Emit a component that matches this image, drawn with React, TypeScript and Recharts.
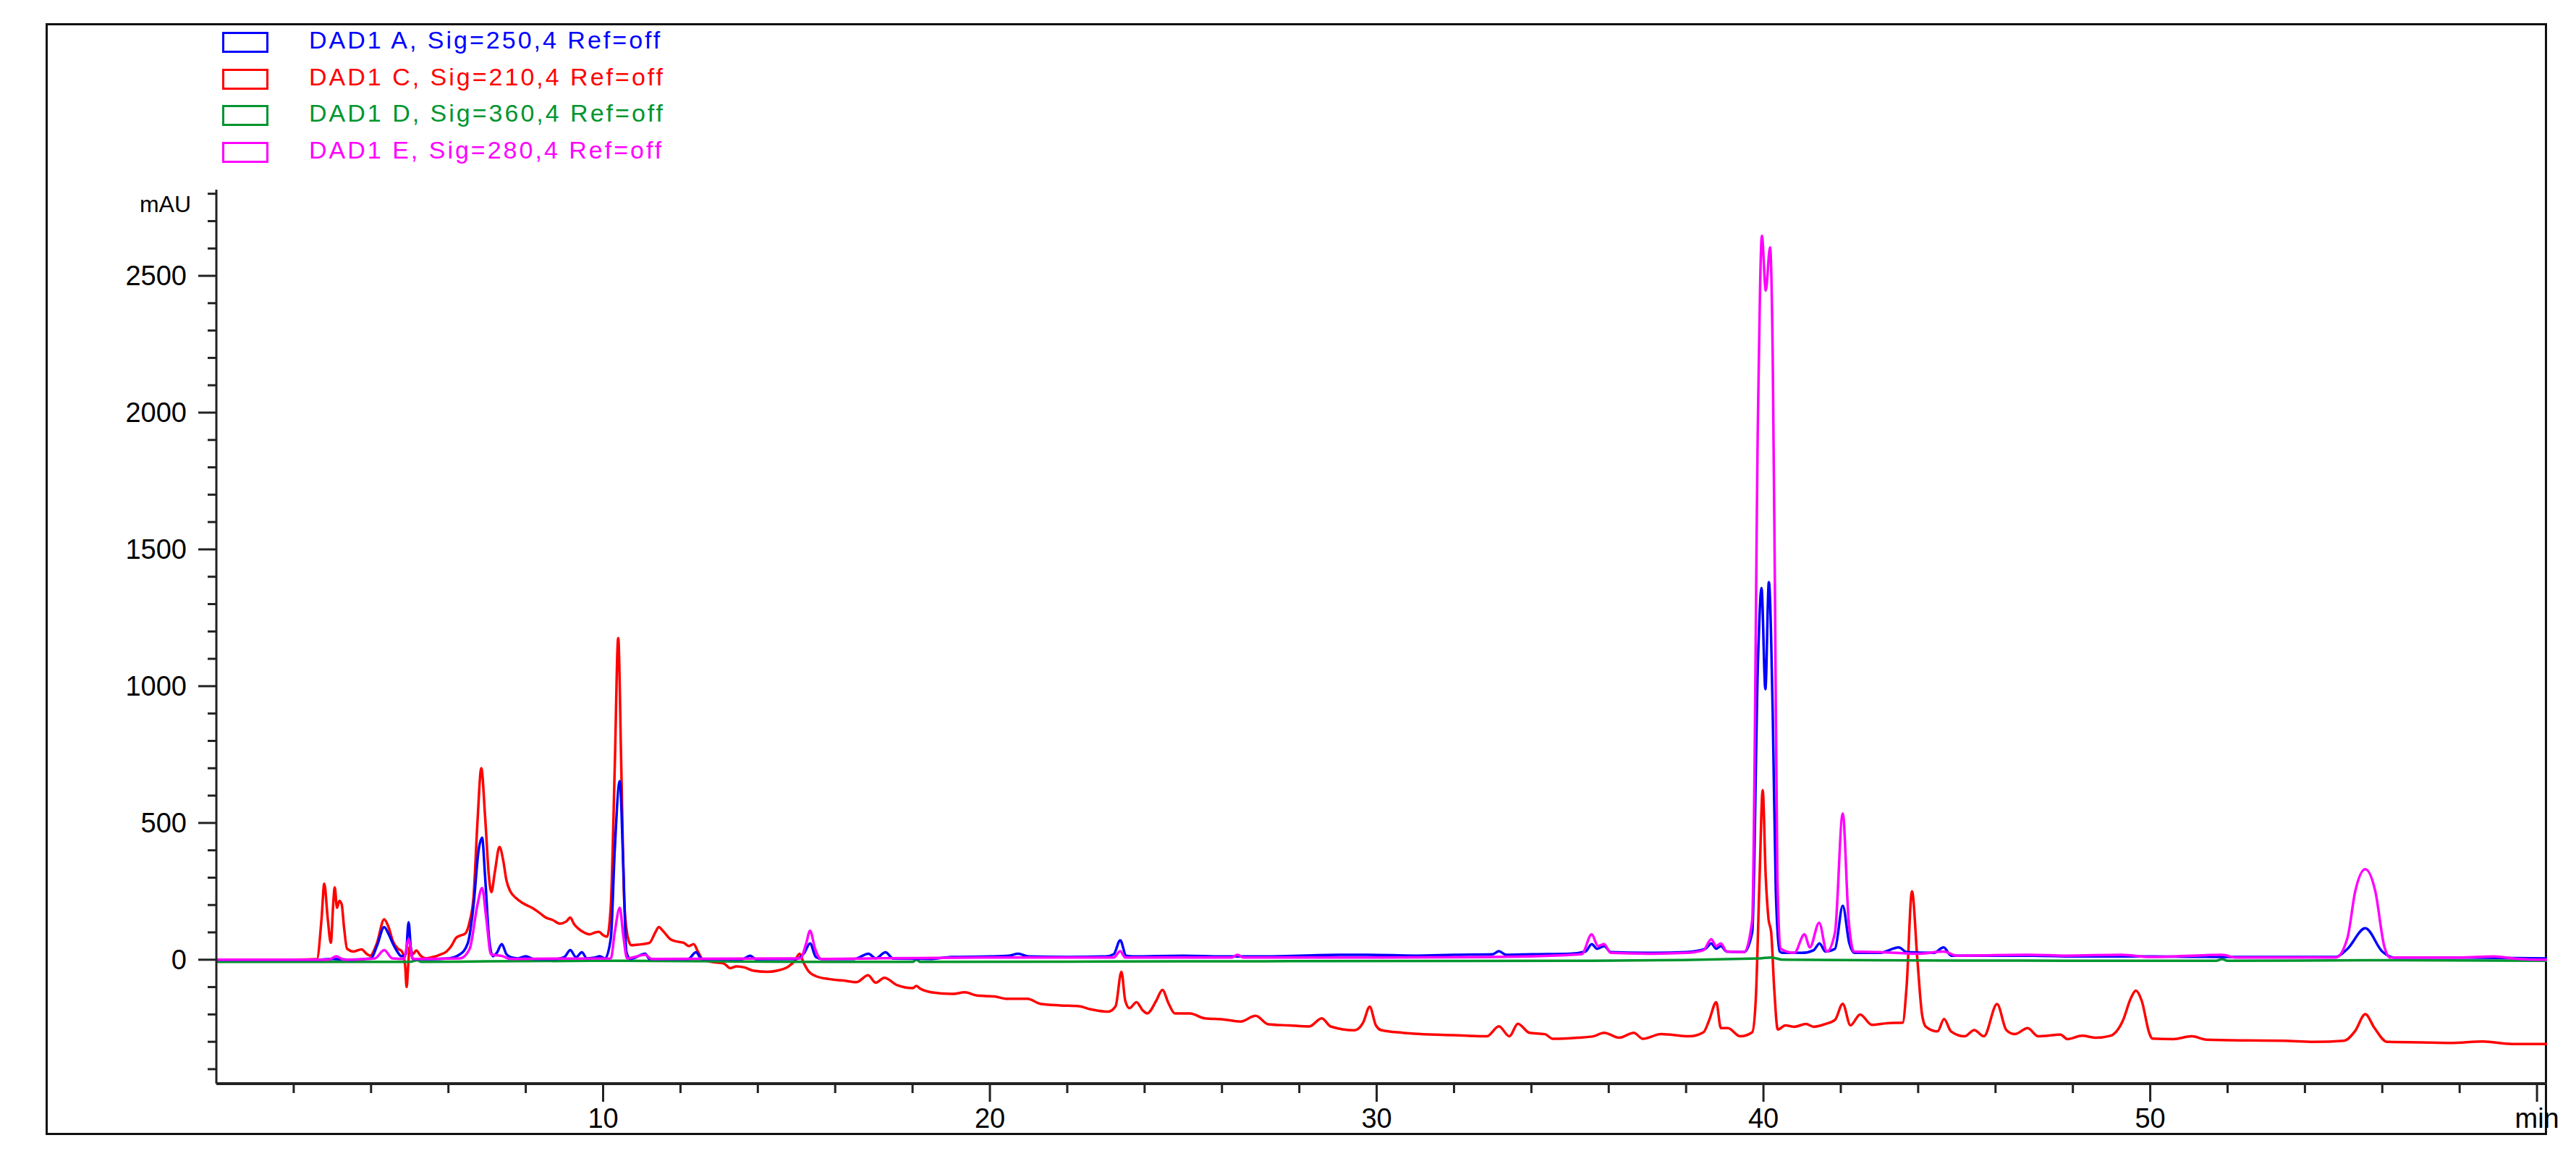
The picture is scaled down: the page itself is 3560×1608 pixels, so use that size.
import React from "react";
import { LineChart, Line, XAxis, YAxis } from "recharts";

// retention time (min), absorbance (mAU)
const dadA: [number, number][] = [
  [0, 0], [2.6, 0], [3.0, 3], [3.5, 0], [4.0, 5], [4.15, 50], [4.34, 119], [4.45, 95], [4.57, 57],
  [4.7, 25], [4.78, 13], [4.9, 20], [4.97, 137], [5.03, 40], [5.08, 3], [5.5, 2], [6.0, 5], [6.3, 20],
  [6.5, 60], [6.65, 200], [6.78, 400], [6.87, 446], [6.95, 300], [7.05, 80], [7.15, 13], [7.25, 25],
  [7.38, 57], [7.5, 20], [7.62, 9], [7.8, 5], [8.0, 13], [8.2, 3], [8.8, 3], [9.0, 10], [9.15, 35],
  [9.3, 9], [9.45, 27], [9.58, 5], [9.8, 8], [9.91, 13], [10.05, 5], [10.2, 80], [10.3, 400],
  [10.43, 653], [10.52, 350], [10.6, 30], [10.7, 3], [11.09, 22], [11.2, 3], [12.2, 3], [12.4, 27],
  [12.55, 3], [13.6, 2], [13.8, 15], [13.95, 2], [15.0, 3], [15.2, 25], [15.35, 60], [15.5, 10],
  [15.65, 3], [16.5, 3], [16.86, 22], [17.05, 5], [17.3, 27], [17.5, 4], [18.5, 3], [19.0, 10],
  [20.0, 12], [20.5, 15], [20.73, 22], [21.0, 12], [22.0, 10], [23.0, 12], [23.2, 20], [23.37, 71],
  [23.52, 15], [23.7, 12], [25.0, 15], [26.0, 12], [27.0, 12], [29.05, 18], [29.76, 18], [31.0, 15],
  [32.0, 18], [33.0, 20], [33.16, 31], [33.35, 18], [34.0, 20], [35.0, 22], [35.4, 30], [35.56, 57],
  [35.7, 40], [35.88, 50], [36.05, 28], [37.0, 25], [38.0, 28], [38.5, 40], [38.65, 60], [38.78, 40],
  [38.9, 50], [39.05, 30], [39.5, 28], [39.71, 100], [39.86, 1100], [39.95, 1359], [40.05, 989],
  [40.14, 1380], [40.24, 900], [40.32, 250], [40.42, 30], [40.5, 25], [41.0, 25], [41.3, 35],
  [41.45, 60], [41.6, 30], [41.85, 40], [42.05, 197], [42.22, 60], [42.35, 25], [43.0, 25], [43.5, 45],
  [43.7, 28], [44.4, 25], [44.66, 45], [44.85, 15], [46.0, 15], [47.0, 15], [48.0, 12], [50.0, 12],
  [52.0, 10], [54.8, 10], [55.1, 40], [55.56, 115], [56.0, 30], [56.3, 8], [58.0, 8], [60.3, 5],
];

const dadC: [number, number][] = [
  [0, 0], [2.0, 0], [2.6, 2], [2.72, 150], [2.79, 278], [2.88, 150], [2.96, 62], [3.02, 200],
  [3.06, 265], [3.12, 190], [3.18, 215], [3.24, 203], [3.3, 120], [3.38, 40], [3.55, 30], [3.75, 38],
  [3.9, 20], [3.98, 15], [4.15, 60], [4.34, 148], [4.45, 120], [4.57, 66], [4.7, 40], [4.8, 30],
  [4.88, -20], [4.92, -100], [4.96, -20], [5.0, 50], [5.08, 20], [5.17, 34], [5.28, 15], [5.41, 5],
  [5.6, 10], [5.77, 18], [5.95, 30], [6.07, 49], [6.2, 80], [6.3, 88], [6.43, 95], [6.55, 140],
  [6.65, 230], [6.75, 500], [6.85, 700], [6.95, 520], [7.05, 300], [7.11, 247], [7.2, 320],
  [7.32, 412], [7.42, 360], [7.5, 290], [7.6, 250], [7.75, 225], [7.92, 207], [8.16, 190], [8.35, 172],
  [8.52, 154], [8.7, 145], [8.88, 132], [9.05, 140], [9.15, 154], [9.25, 130], [9.35, 115], [9.5, 100],
  [9.65, 93], [9.8, 100], [9.89, 102], [10.0, 90], [10.1, 84], [10.2, 200], [10.3, 700], [10.39, 1176],
  [10.47, 700], [10.55, 200], [10.65, 75], [10.73, 53], [10.9, 55], [11.03, 57], [11.2, 62],
  [11.35, 100], [11.44, 119], [11.55, 105], [11.74, 75], [11.92, 66], [12.08, 62], [12.22, 50],
  [12.34, 57], [12.45, 30], [12.58, 0], [12.8, -8], [13.11, -13], [13.29, -31], [13.45, -24],
  [13.65, -28], [13.89, -40], [14.25, -44], [14.49, -40], [14.78, -26], [14.95, -5], [15.08, 22],
  [15.18, -10], [15.3, -40], [15.5, -60], [15.85, -71], [16.2, -76], [16.55, -82], [16.85, -57],
  [17.05, -84], [17.27, -66], [17.6, -93], [18.0, -104], [18.1, -96], [18.2, -106], [18.48, -119],
  [19.03, -125], [19.35, -119], [19.67, -131], [20.11, -134], [20.44, -143], [20.97, -143],
  [21.3, -161], [21.82, -167], [22.3, -170], [22.6, -181], [23.06, -190], [23.25, -170], [23.4, -44],
  [23.5, -150], [23.61, -177], [23.79, -155], [23.95, -185], [24.07, -196], [24.3, -150], [24.46, -110],
  [24.62, -160], [24.78, -196], [25.17, -196], [25.55, -214], [26.02, -218], [26.48, -226],
  [26.87, -205], [27.2, -236], [27.72, -240], [28.26, -244], [28.58, -214], [28.81, -244],
  [29.43, -258], [29.65, -230], [29.82, -172], [29.98, -240], [30.13, -258], [30.67, -267],
  [31.99, -276], [32.85, -280], [33.16, -243], [33.43, -280], [33.65, -234], [33.95, -267],
  [34.35, -272], [34.55, -289], [35.2, -285], [35.6, -280], [35.88, -267], [36.27, -285],
  [36.65, -267], [36.88, -289], [37.35, -272], [38.08, -280], [38.45, -265], [38.6, -220],
  [38.78, -155], [38.9, -250], [39.08, -250], [39.4, -280], [39.71, -265], [39.8, -150], [39.9, 300],
  [39.98, 620], [40.06, 300], [40.13, 150], [40.2, 100], [40.28, -110], [40.37, -255], [40.57, -240],
  [40.8, -245], [41.1, -235], [41.3, -245], [41.6, -235], [41.85, -220], [42.05, -161], [42.25, -240],
  [42.5, -200], [42.8, -238], [43.2, -232], [43.6, -230], [43.7, -100], [43.84, 250], [43.98, 0],
  [44.1, -200], [44.2, -245], [44.5, -262], [44.67, -217], [44.85, -262], [45.2, -280], [45.45, -257],
  [45.7, -280], [46.04, -162], [46.28, -257], [46.5, -272], [46.83, -250], [47.1, -280], [47.68, -274],
  [47.86, -290], [48.24, -278], [48.6, -285], [48.97, -278], [49.3, -220], [49.5, -140], [49.63, -113],
  [49.78, -150], [49.98, -270], [50.05, -288], [50.6, -290], [51.07, -280], [51.45, -292],
  [52.5, -295], [53.44, -296], [54.22, -300], [55.01, -296], [55.3, -260], [55.56, -199], [55.8, -250],
  [56.12, -300], [57.0, -302], [57.77, -304], [58.6, -299], [59.35, -308], [60.3, -308],
];

const dadD: [number, number][] = [
  [0, -8], [5.0, -8], [5.2, -2], [5.3, -8], [7.0, -6], [10.4, -4], [15.35, -8], [18.0, -8],
  [18.1, 0], [18.2, -8], [25.0, -6], [35.0, -4], [39.9, 5], [40.2, 8], [40.5, 0], [45.0, -3],
  [51.7, -4], [51.86, 2], [52.0, -4], [55.56, -2], [60.3, -4],
];

const dadE: [number, number][] = [
  [0, 0], [2.9, 0], [3.1, 13], [3.3, 0], [4.1, 5], [4.34, 35], [4.55, 5], [4.85, 3], [4.97, 75],
  [5.08, 3], [6.3, 5], [6.55, 40], [6.75, 200], [6.87, 262], [6.98, 150], [7.1, 20], [7.4, 13],
  [7.6, 3], [10.2, 5], [10.3, 100], [10.43, 190], [10.52, 90], [10.62, 5], [11.09, 18], [11.25, 3],
  [15.1, 5], [15.25, 60], [15.35, 106], [15.48, 40], [15.63, 3], [17.0, 5], [20.0, 8], [23.2, 8],
  [23.37, 31], [23.5, 8], [26.25, 8], [26.4, 18], [26.55, 8], [29.0, 8], [33.0, 10], [35.3, 20],
  [35.56, 93], [35.72, 50], [35.88, 57], [36.05, 25], [37.0, 22], [38.0, 25], [38.45, 35], [38.65, 75],
  [38.78, 50], [38.9, 60], [39.05, 30], [39.5, 28], [39.71, 145], [39.86, 2000], [39.96, 2646],
  [40.06, 2446], [40.17, 2604], [40.24, 2200], [40.3, 1300], [40.36, 300], [40.45, 40], [40.8, 25],
  [41.06, 93], [41.2, 45], [41.44, 135], [41.64, 30], [41.85, 100], [42.05, 535], [42.2, 150],
  [42.34, 30], [43.0, 28], [44.0, 22], [44.66, 30], [45.0, 15], [46.9, 18], [47.8, 15], [49.26, 18],
  [50.0, 10], [51.86, 18], [52.2, 8], [54.8, 8], [55.1, 80], [55.3, 250], [55.56, 331], [55.82, 250],
  [56.05, 50], [56.2, 8], [58.0, 8], [58.88, 12], [59.5, 3], [60.3, 0],
];

const legendNames = [
  "DAD1 A, Sig=250,4 Ref=off",
  "DAD1 C, Sig=210,4 Ref=off",
  "DAD1 D, Sig=360,4 Ref=off",
  "DAD1 E, Sig=280,4 Ref=off",
];
const colors = ["#0000ff", "#ff0000", "#00952e", "#ff00ff"];

const yLabels = [0, 500, 1000, 1500, 2000, 2500];
const xLabels = [10, 20, 30, 40, 50];
const yTicks = Array.from({ length: 33 }, (_, i) => -400 + i * 100);
const xTicks = Array.from({ length: 31 }, (_, i) => i * 2);

const toPts = (arr: [number, number][]) => arr.map(([t, v]) => ({ t, v }));
const FONT = "'Liberation Sans', Arial, sans-serif";

function XTick(props: any) {
  const { x, y, payload } = props;
  const val = payload.value;
  if (val === 0) return <g />;
  const major = val % 10 === 0;
  const label = xLabels.includes(val) ? String(val) : val === 60 ? "min" : null;
  return (
    <g>
      <line x1={x} x2={x} y1={y} y2={y + (major ? 25 : 13)} stroke="#222" strokeWidth={3} />
      {label && (
        <text x={x} y={y + 61} textAnchor="middle" fontSize={38} fontFamily={FONT} fill="#000">
          {label}
        </text>
      )}
    </g>
  );
}

function YTick(props: any) {
  const { x, y, payload } = props;
  const val = payload.value;
  const major = val % 500 === 0;
  return (
    <g>
      <line x1={x - (major ? 25 : 12)} x2={x} y1={y} y2={y} stroke="#222" strokeWidth={3} />
      {yLabels.includes(val) && (
        <text x={x - 41} y={y + 13} textAnchor="end" fontSize={38} fontFamily={FONT} fill="#000">
          {val}
        </text>
      )}
    </g>
  );
}

export default function App() {
  return (
    <div style={{ position: "absolute", left: 0, top: 0, width: 3560, height: 1608, background: "#fff" }}>
      <div
        style={{
          position: "absolute", left: 63, top: 32, width: 3520 - 63, height: 1568 - 32,
          border: "3px solid #111", boxSizing: "border-box",
        }}
      />
      {legendNames.map((name, i) => (
        <React.Fragment key={name}>
          <div
            style={{
              position: "absolute", left: 307, top: 44 + i * 50.7, width: 64, height: 29,
              border: `3px solid ${colors[i]}`, boxSizing: "border-box",
            }}
          />
          <div
            style={{
              position: "absolute", left: 427, top: 37 + i * 50.7, fontFamily: FONT, fontSize: 34,
              letterSpacing: 3, color: colors[i], lineHeight: "36px", whiteSpace: "nowrap",
            }}
          >
            {name}
          </div>
        </React.Fragment>
      ))}
      <div
        style={{
          position: "absolute", right: 3560 - 264, top: 265, fontFamily: FONT, fontSize: 32,
          color: "#000", lineHeight: "34px",
        }}
      >
        mAU
      </div>
      <LineChart width={3560} height={1608} margin={{ top: 262, right: 40, left: 99, bottom: 51 }}>
        <XAxis
          type="number"
          dataKey="t"
          domain={[0, 60.26]}
          allowDataOverflow
          ticks={xTicks}
          interval={0}
          tickSize={0}
          tickMargin={0}
          tickLine={false}
          tick={<XTick />}
          height={60}
          axisLine={{ stroke: "#222", strokeWidth: 4 }}
        />
        <YAxis
          type="number"
          domain={[-453, 2815]}
          allowDataOverflow
          ticks={yTicks}
          interval={0}
          tickSize={0}
          tickMargin={0}
          tickLine={false}
          tick={<YTick />}
          width={200}
          axisLine={{ stroke: "#222", strokeWidth: 3 }}
        />
        <Line data={toPts(dadC)} dataKey="v" type="monotone" stroke={colors[1]} strokeWidth={3.5} dot={false} isAnimationActive={false} />
        <Line data={toPts(dadD)} dataKey="v" type="monotone" stroke={colors[2]} strokeWidth={3.5} dot={false} isAnimationActive={false} />
        <Line data={toPts(dadA)} dataKey="v" type="monotone" stroke={colors[0]} strokeWidth={3.5} dot={false} isAnimationActive={false} />
        <Line data={toPts(dadE)} dataKey="v" type="monotone" stroke={colors[3]} strokeWidth={3.5} dot={false} isAnimationActive={false} />
      </LineChart>
    </div>
  );
}
